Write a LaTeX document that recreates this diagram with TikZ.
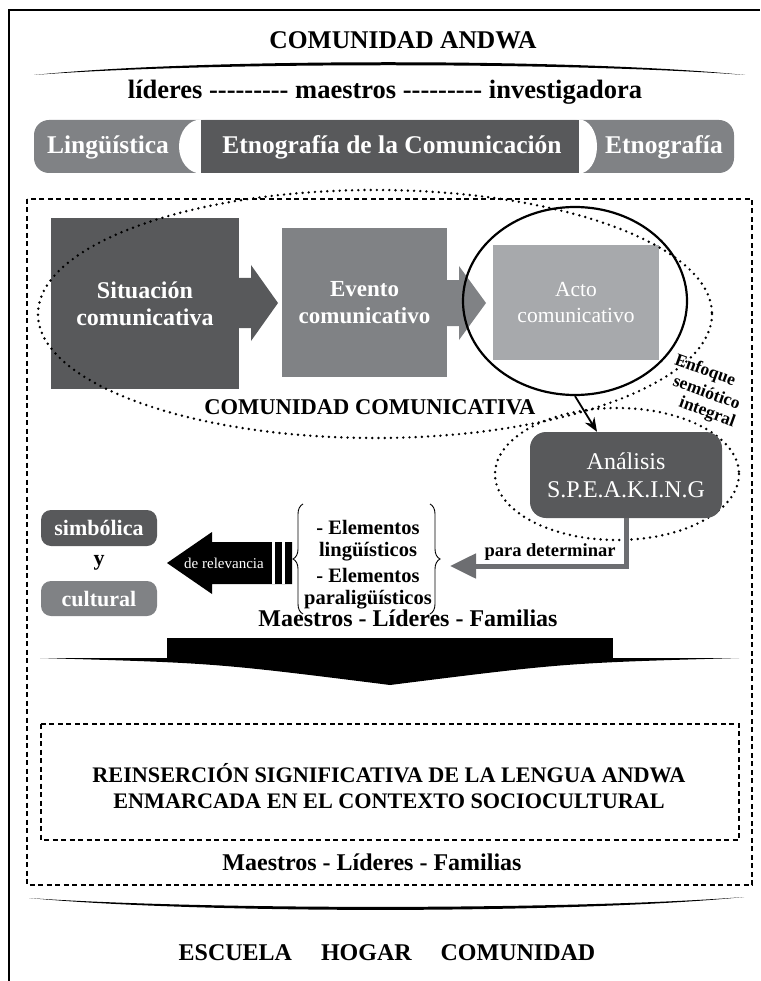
\documentclass[tikz,border=0pt]{standalone}
\usepackage{fontspec}
\setmainfont{Liberation Serif}
\usetikzlibrary{arrows.meta,decorations.pathreplacing,shapes.geometric}
\definecolor{dk}{HTML}{58595B}
\definecolor{md}{HTML}{808285}
\definecolor{lt}{HTML}{A7A9AC}
\definecolor{cn}{HTML}{6D6E71}
\newcommand\myfs[2]{\fontsize{#1pt}{#2pt}\selectfont}
\newcommand\ninedash{-{}-{}-{}-{}-{}-{}-{}-{}-}
\begin{document}
\begin{tikzpicture}[x=1pt,y=-1pt,
  txt/.style={inner sep=0pt, align=center},
  boxnode/.style={inner sep=0pt, align=center, text=white},
  dotline/.style={line width=2.7pt, line cap=round, dash pattern=on 0pt off 6.2pt},
  dashline/.style={line width=1.1pt, dash pattern=on 5pt off 3.5pt},
  bracedraw/.style={line width=0.9pt, decorate, decoration={brace, amplitude=10pt}}]
\useasboundingbox (0,0) rectangle (760,981);
% frame
\draw[line width=1.3pt] (9,981) -- (9,10) -- (760,10);
% title and arc
\node[txt, font=\myfs{25.5}{30}\bfseries] (title) at (403,40) {COMUNIDAD ANDWA};
\fill (34,75) .. controls (200,58) and (576,58) .. (745,75) .. controls (576,62) and (200,62) .. (34,75) -- cycle;
\node[txt, font=\myfs{26.5}{30}\bfseries] (roles) at (385,92) {líderes \ninedash{} maestros \ninedash{} investigadora};
% bar
\fill[md, rounded corners=15pt] (34,120) rectangle (734,173);
\fill[white] (201,146.5) ellipse [x radius=22, y radius=27];
\fill[white] (579,146.5) ellipse [x radius=18, y radius=27];
\fill[dk] (201,120) rectangle (579,173);
\node[txt, text=white, font=\myfs{25.5}{30}\bfseries] (ling) at (108,147) {Lingüística};
\node[txt, text=white, font=\myfs{25.5}{30}\bfseries] (etcom) at (392,147) {Etnografía de la Comunicación};
\node[txt, text=white, font=\myfs{25.5}{30}\bfseries] (etno) at (664,147) {Etnografía};
% outer dashed box
\draw[dashline] (27,199) rectangle (752,885);
% three boxes
\node[boxnode, fill=dk, minimum width=188pt, minimum height=171pt, font=\myfs{24}{27}\bfseries] (sit) at (145,303.5) {Situación\\comunicativa};
\node[boxnode, fill=md, minimum width=165pt, minimum height=149pt, font=\myfs{23}{27}\bfseries] (eve) at (364.5,302.5) {Evento\\comunicativo};
\node[boxnode, fill=lt, minimum width=166pt, minimum height=115pt, font=\myfs{21.5}{26}] (act) at (576,302.5) {Acto\\comunicativo};
\fill[dk] (238,278) -- (251,278) -- (251,265) -- (278,303) -- (251,341) -- (251,328) -- (238,328) -- cycle;
\fill[md] (446,280) -- (459,280) -- (459,266) -- (486,303) -- (459,340) -- (459,326) -- (446,326) -- cycle;
% ellipses
\draw[dotline] (375,314) ellipse [x radius=337, y radius=124];
\draw[dotline] (617,474) ellipse [x radius=122, y radius=66];
\node[draw, ellipse, line width=2.2pt, minimum width=224pt, minimum height=188pt, inner sep=0pt] (circ) at (575,301) {};
\node[txt, font=\myfs{22.5}{26}\bfseries] (comcom) at (370,407) {COMUNIDAD COMUNICATIVA};
\node[txt, rotate=-20, font=\myfs{17.5}{20}\bfseries] (enf1) at (705,371) {Enfoque};
\node[txt, rotate=-20, font=\myfs{17.5}{20}\bfseries] (enf2) at (707,392) {semiótico};
\node[txt, rotate=-20, font=\myfs{17.5}{20}\bfseries] (enf3) at (707,413) {integral};
% analysis box
\node[boxnode, fill=dk, rounded corners=16pt, minimum width=192pt, minimum height=86pt, font=\myfs{24}{28}] (ana) at (626,475) {Análisis\\S.P.E.A.K.I.N.G};
\draw[line width=1.8pt, -{Stealth[length=14pt,width=11pt]}] (circ.south) -- ([xshift=-29pt]ana.north);
% connector to braces
\coordinate (tgt) at (450,566);
\draw[cn, line width=5pt, -{Triangle[length=26pt,width=24pt]}] (ana.south) |- (tgt);
\node[txt, font=\myfs{18.5}{22}\bfseries] (para) at (550,552) {para determinar};
% elements and braces
\node[txt, font=\myfs{20.5}{22}\bfseries] (el1) at (368,541) {- Elementos\\lingüísticos};
\node[txt, font=\myfs{20.5}{22}\bfseries] (el2) at (368,589) {- Elementos\\paraligüísticos};
\coordinate (lbB) at (303,614); \coordinate (lbT) at (303,504);
\coordinate (rbT) at (430,504); \coordinate (rbB) at (430,614);
\draw[bracedraw] (lbB) -- (lbT);
\draw[bracedraw] (rbT) -- (rbB);
% black left arrow
\fill (292,542) -- (212,542) -- (212,532) -- (167,563) -- (212,594) -- (212,584) -- (292,584) -- cycle;
\fill[white] (272,542) rectangle (275,584);
\fill[white] (282,542) rectangle (285,584);
\node[txt, text=white, font=\myfs{15}{18}] (rel) at (224,563) {de relevancia};
% simbolica y cultural
\node[boxnode, fill=dk, rounded corners=10pt, minimum width=116pt, minimum height=36pt, font=\myfs{22}{26}\bfseries] (simb) at (99,528) {simbólica};
\node[txt, font=\myfs{22}{26}\bfseries] (yy) at (99,563) {y};
\node[boxnode, fill=md, rounded corners=10pt, minimum width=116pt, minimum height=35pt, font=\myfs{22}{26}\bfseries] (cult) at (99,598.5) {cultural};
% maestros 1
\node[txt, font=\myfs{24}{28}\bfseries] (mae1) at (408,618) {Maestros - Líderes - Familias};
% big down arrow
\fill (167,638) rectangle (613,659);
\fill (40,658) .. controls (215,663) .. (390,685) .. controls (565,663) .. (739,658) -- cycle;
% inner dashed box
\draw[dashline] (41,724) rectangle (739,840);
\node[txt, font=\myfs{22.2}{26}\bfseries] (reins) at (389,786) {REINSERCIÓN SIGNIFICATIVA DE LA LENGUA ANDWA\\ENMARCADA EN EL CONTEXTO SOCIOCULTURAL};
\node[txt, font=\myfs{24}{28}\bfseries] (mae2) at (372,862) {Maestros - Líderes - Familias};
% bottom arc
\fill (29,898) .. controls (200,914) and (573,914) .. (744,897) .. controls (573,910) and (200,910) .. (29,898) -- cycle;
\node[txt, font=\myfs{24}{28}\bfseries] (esc) at (387,953) {ESCUELA\hspace{29pt}HOGAR\hspace{29pt}COMUNIDAD};
\end{tikzpicture}
\end{document}
